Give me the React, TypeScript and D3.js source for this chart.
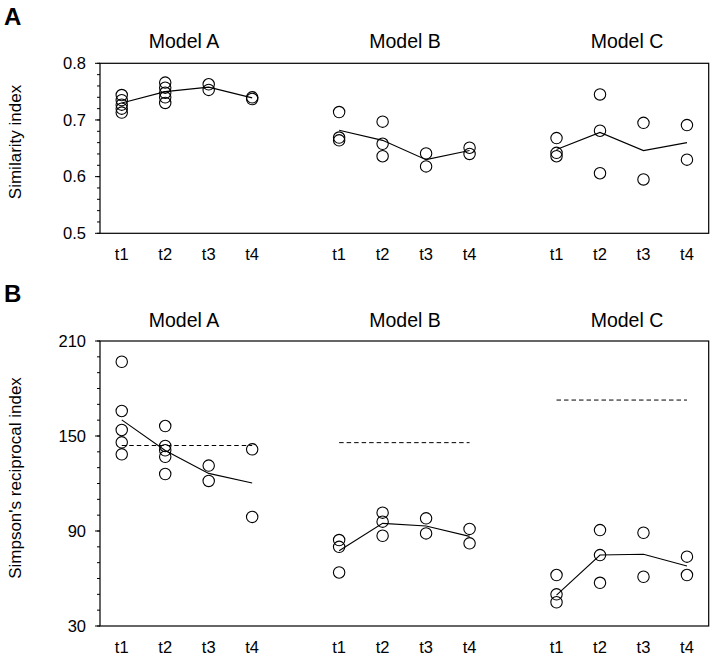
import React from "react";
import * as d3 from "d3";

const timepoints = ["t1", "t2", "t3", "t4"];
const models = ["Model A", "Model B", "Model C"];

// Panel A: similarity index, points per timepoint
const similarityModelA = [
  [0.744, 0.735, 0.727, 0.72, 0.713],
  [0.766, 0.757, 0.748, 0.74, 0.73],
  [0.763, 0.753],
  [0.74, 0.737],
];
const similarityModelB = [
  [0.714, 0.669, 0.664],
  [0.697, 0.658, 0.636],
  [0.641, 0.618],
  [0.651, 0.64],
];
const similarityModelC = [
  [0.668, 0.642, 0.636],
  [0.745, 0.681, 0.606],
  [0.695, 0.595],
  [0.691, 0.63],
];
const similarityLineA = [0.73, 0.75, 0.758, 0.739];
const similarityLineB = [0.682, 0.664, 0.63, 0.646];
const similarityLineC = [0.648, 0.678, 0.646, 0.66];

// Panel B: Simpson's reciprocal index
const simpsonModelA = [
  [196.9, 165.8, 153.8, 146.0, 138.4],
  [156.3, 143.7, 141.0, 136.9, 126.0],
  [131.3, 121.6],
  [141.6, 98.9],
];
const simpsonModelB = [
  [84.3, 80.0, 63.8],
  [101.6, 95.9, 87.0],
  [98.0, 88.5],
  [91.3, 82.2],
];
const simpsonModelC = [
  [62.2, 50.0, 45.0],
  [90.6, 74.8, 57.3],
  [88.9, 61.1],
  [73.8, 62.2],
];
const simpsonLineA = [160.2, 140.8, 126.4, 120.3];
const simpsonLineB = [77.5, 94.8, 93.2, 86.6];
const simpsonLineC = [49.5, 74.8, 75.3, 67.9];
const simpsonReference = [144, 145.8, 172.7];

const simTicks = [0.5, 0.6, 0.7, 0.8];
const simpsonTicks = [30, 90, 150, 210];

const FONT = "Liberation Sans, Arial, Helvetica, sans-serif";
const W = 714;
const H = 658;
const BOX_L = 100;
const BOX_R = 708.7;
const titleX = [184, 405, 627];
const groupStart = [0, 5, 10];

const x = d3.scaleLinear().domain([-0.5, 13.5]).range([BOX_L, BOX_R]);

type PanelProps = {
  label: string;
  labelY: number;
  titleY: number;
  top: number;
  bottom: number;
  domain: [number, number];
  ticks: number[];
  minorStep: number;
  fmt: (v: number) => string;
  yTitle: string;
  yTitleY: number;
  xLabelY: number;
  points: number[][][];
  lines: number[][];
  reference?: number[];
};

function Panel(p: PanelProps) {
  const y = d3.scaleLinear().domain(p.domain).range([p.bottom, p.top]);
  const minor = d3.range(p.domain[0], p.domain[1] + 1e-9, p.minorStep);
  const lineGen = d3
    .line<number>()
    .x((_, i) => x(i))
    .y((d) => y(d));
  return (
    <g>
      <text x={4} y={p.labelY} fontFamily={FONT} fontWeight="bold" fontSize={24} fill="#000">
        {p.label}
      </text>
      {models.map((m, mi) => (
        <text key={m} x={titleX[mi]} y={p.titleY} textAnchor="middle" fontFamily={FONT} fontSize={19.5} fill="#000">
          {m}
        </text>
      ))}
      <text
        transform={`translate(21,${p.yTitleY}) rotate(-90)`}
        textAnchor="middle"
        fontFamily={FONT}
        fontSize={17}
        fill="#000"
      >
        {p.yTitle}
      </text>
      {minor.map((v, i) => (
        <line key={"mi" + i} x1={BOX_L - 3} x2={BOX_L} y1={y(v)} y2={y(v)} stroke="#000" strokeWidth={1} />
      ))}
      {p.ticks.map((v) => (
        <g key={"t" + v}>
          <line x1={BOX_L - 5} x2={BOX_L} y1={y(v)} y2={y(v)} stroke="#000" strokeWidth={1} />
          <text x={86} y={y(v)} dy="0.35em" textAnchor="end" fontFamily={FONT} fontSize={16.5} fill="#000">
            {p.fmt(v)}
          </text>
        </g>
      ))}
      <rect
        x={BOX_L}
        y={p.top}
        width={BOX_R - BOX_L}
        height={p.bottom - p.top}
        fill="none"
        stroke="#000"
        strokeWidth={1.2}
      />
      {models.map((m, mi) =>
        timepoints.map((t, ti) => (
          <text
            key={m + t}
            x={x(groupStart[mi] + ti)}
            y={p.xLabelY}
            textAnchor="middle"
            fontFamily={FONT}
            fontSize={16.5}
            fill="#000"
          >
            {t}
          </text>
        ))
      )}
      {p.reference &&
        p.reference.map((r, mi) => (
          <line
            key={"ref" + mi}
            x1={x(groupStart[mi])}
            x2={x(groupStart[mi] + 3)}
            y1={y(r)}
            y2={y(r)}
            stroke="#000"
            strokeWidth={1}
            strokeDasharray="4.5,3"
          />
        ))}
      {p.lines.map((ln, mi) => (
        <path
          key={"ln" + mi}
          d={lineGen(ln) || ""}
          transform={`translate(${x(groupStart[mi]) - x(0)},0)`}
          fill="none"
          stroke="#000"
          strokeWidth={1.1}
        />
      ))}
      {p.points.map((model, mi) =>
        model.map((vals, ti) =>
          vals.map((v, k) => (
            <circle
              key={`c${mi}-${ti}-${k}`}
              cx={x(groupStart[mi] + ti)}
              cy={y(v)}
              r={5.7}
              fill="none"
              stroke="#000"
              strokeWidth={1.1}
            />
          ))
        )
      )}
    </g>
  );
}

export default function App() {
  return (
    <svg
      width={W}
      height={H}
      style={{ position: "absolute", left: 0, top: 0, background: "#fff" }}
    >
      <rect width={W} height={H} fill="#fff" />
      <Panel
        label="A"
        labelY={25}
        titleY={48.3}
        top={63.3}
        bottom={233.3}
        domain={[0.5, 0.8]}
        ticks={simTicks}
        minorStep={0.02}
        fmt={(v) => d3.format(".1f")(v)}
        yTitle="Similarity index"
        yTitleY={142}
        xLabelY={260}
        points={[similarityModelA, similarityModelB, similarityModelC]}
        lines={[similarityLineA, similarityLineB, similarityLineC]}
      />
      <Panel
        label="B"
        labelY={301.7}
        titleY={327.3}
        top={341}
        bottom={626}
        domain={[30, 210]}
        ticks={simpsonTicks}
        minorStep={10}
        fmt={(v) => String(v)}
        yTitle="Simpson's reciprocal index"
        yTitleY={478}
        xLabelY={653}
        points={[simpsonModelA, simpsonModelB, simpsonModelC]}
        lines={[simpsonLineA, simpsonLineB, simpsonLineC]}
        reference={simpsonReference}
      />
    </svg>
  );
}
